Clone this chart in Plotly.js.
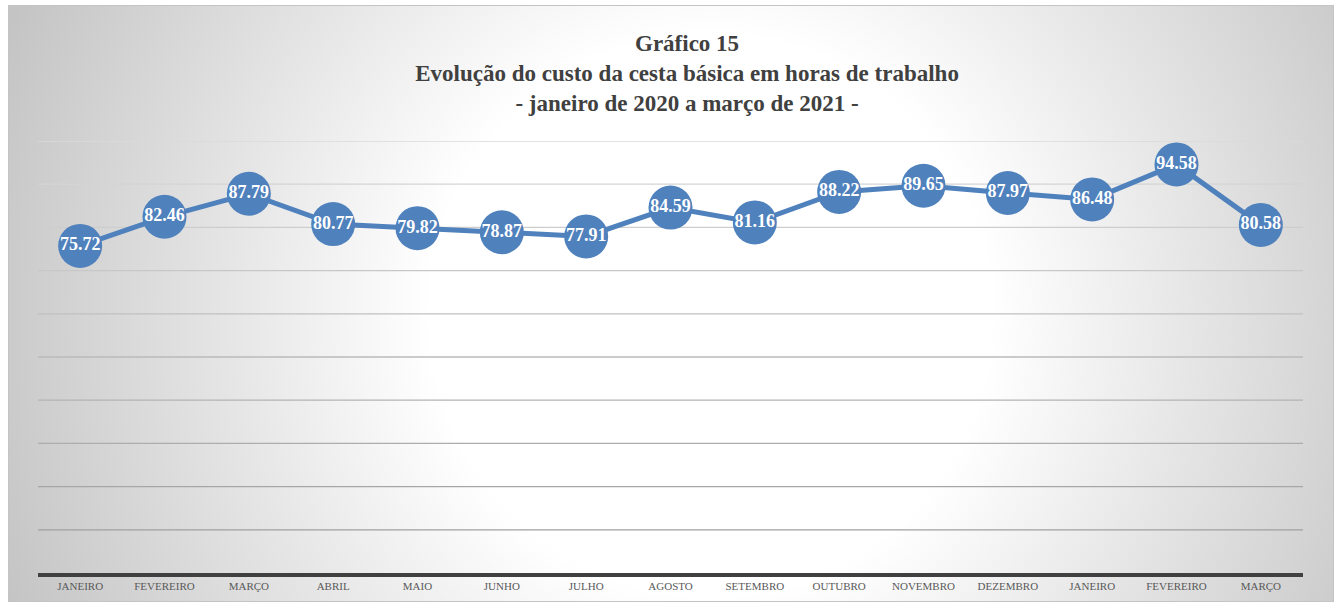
<!DOCTYPE html>
<html>
<head>
<meta charset="utf-8">
<script src="https://cdn.plot.ly/plotly-3.0.1.min.js"></script>
<style>
  html, body { margin: 0; padding: 0; background: #ffffff; }
  #wrap { position: relative; width: 1338px; height: 605px; overflow: hidden; }
  #bg {
    position: absolute; left: 8px; top: 5px; width: 1324px; height: 595px;
    border: 1px solid #c4c4c4;
    background: radial-gradient(circle at 53% 52%, #ffffff 0px, #ffffff 280px, #e6e6e6 480px, #c4c4c4 760px);
  }
  #chart { position: absolute; left: 0; top: 0; width: 1338px; height: 605px; }
</style>
</head>
<body>
<div id="wrap">
  <div id="bg"></div>
  <div id="chart"></div>
</div>
<script>
// Months (tick labels) — January 2020 to March 2021
const months = ["JANEIRO", "FEVEREIRO", "MARÇO", "ABRIL", "MAIO", "JUNHO", "JULHO",
                "AGOSTO", "SETEMBRO", "OUTUBRO", "NOVEMBRO", "DEZEMBRO",
                "JANEIRO", "FEVEREIRO", "MARÇO"];
// Cost of basic food basket in working hours
const hours = [75.72, 82.46, 87.79, 80.77, 79.82, 78.87, 77.91,
               84.59, 81.16, 88.22, 89.65, 87.97, 86.48, 94.58, 80.58];
// Horizontal gridline values
const gridValues = [10, 20, 30, 40, 50, 60, 70, 80, 90, 100];

const xIdx = months.map((m, i) => i);
const serif = "'Liberation Serif', 'DejaVu Serif', serif";

const trace = {
  x: xIdx,
  y: hours,
  type: 'scatter',
  mode: 'lines+markers+text',
  line: { color: '#4F81BD', width: 5 },
  marker: { color: '#4F81BD', size: 44 },
  text: hours.map(v => v.toFixed(2)),
  textposition: 'middle center',
  textfont: { family: serif, size: 18, color: '#ffffff', weight: 'bold' },
  hoverinfo: 'x+y',
  cliponaxis: false
};

// gridlines with a gentle dark-to-light fade from bottom to top
const shapes = gridValues.map((v, i) => {
  const t = i / (gridValues.length - 1);
  const c = Math.round(160 + t * (218 - 160));
  return {
    type: 'line', xref: 'paper', x0: 0, x1: 1, yref: 'y', y0: v, y1: v,
    line: { color: `rgb(${c},${c},${c})`, width: 1.3 }, layer: 'below'
  };
});

const layout = {
  width: 1338, height: 605,
  paper_bgcolor: 'rgba(0,0,0,0)',
  plot_bgcolor: 'rgba(0,0,0,0)',
  margin: { l: 38, r: 35, t: 141, b: 32 },
  showlegend: false,
  title: {
    text: '<b>Gráfico 15<br>Evolução do custo da cesta básica em horas de trabalho<br>- janeiro de 2020 a março de 2021 -</b>',
    font: { family: serif, size: 23, color: '#404040' },
    x: 0.5135, xanchor: 'center', y: 0.915, yanchor: 'top'
  },
  xaxis: {
    range: [-0.5, months.length - 0.5],
    tickvals: xIdx,
    ticktext: months,
    tickfont: { family: serif, size: 11, color: '#595959' },
    showgrid: false, zeroline: false,
    showline: true, linecolor: '#404040', linewidth: 4,
    ticks: '', ticklen: 0,
    fixedrange: true
  },
  yaxis: {
    range: [0, 100],
    showgrid: false, zeroline: false,
    showticklabels: false, ticks: '',
    fixedrange: true
  },
  shapes: shapes
};

Plotly.newPlot('chart', [trace], layout, { displayModeBar: false, staticPlot: true });
</script>
</body>
</html>
